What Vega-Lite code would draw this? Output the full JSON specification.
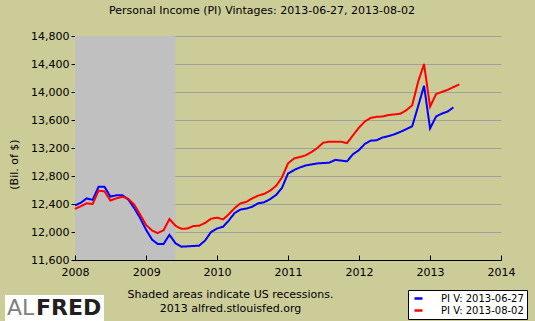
{
  "$schema": "https://vega.github.io/schema/vega-lite/v6.json",
  "width": 426,
  "height": 224,
  "autosize": {"type": "none"},
  "padding": {"left": 75, "top": 36, "right": 34, "bottom": 61},
  "background": "#CCCC99",
  "title": {
    "text": "Personal Income (PI) Vintages: 2013-06-27, 2013-08-02",
    "fontSize": 11,
    "fontWeight": "normal",
    "font": "DejaVu Sans",
    "color": "#000000",
    "anchor": "middle",
    "frame": "group",
    "dx": -26,
    "offset": 5,
    "baseline": "alphabetic"
  },
  "config": {
    "font": "DejaVu Sans",
    "view": {"stroke": null}
  },
  "datasets": {
    "rec": [{"date": "2008-01-01", "date2": "2009-06-01"}],
    "pi": [
      {"date": "2008-01-01", "vintage": "PI V: 2013-06-27", "value": 12380},
      {"date": "2008-02-01", "vintage": "PI V: 2013-06-27", "value": 12420},
      {"date": "2008-03-01", "vintage": "PI V: 2013-06-27", "value": 12480},
      {"date": "2008-04-01", "vintage": "PI V: 2013-06-27", "value": 12460},
      {"date": "2008-05-01", "vintage": "PI V: 2013-06-27", "value": 12645},
      {"date": "2008-06-01", "vintage": "PI V: 2013-06-27", "value": 12645},
      {"date": "2008-07-01", "vintage": "PI V: 2013-06-27", "value": 12505},
      {"date": "2008-08-01", "vintage": "PI V: 2013-06-27", "value": 12525},
      {"date": "2008-09-01", "vintage": "PI V: 2013-06-27", "value": 12525},
      {"date": "2008-10-01", "vintage": "PI V: 2013-06-27", "value": 12465},
      {"date": "2008-11-01", "vintage": "PI V: 2013-06-27", "value": 12340},
      {"date": "2008-12-01", "vintage": "PI V: 2013-06-27", "value": 12200},
      {"date": "2009-01-01", "vintage": "PI V: 2013-06-27", "value": 12030},
      {"date": "2009-02-01", "vintage": "PI V: 2013-06-27", "value": 11890},
      {"date": "2009-03-01", "vintage": "PI V: 2013-06-27", "value": 11830},
      {"date": "2009-04-01", "vintage": "PI V: 2013-06-27", "value": 11830},
      {"date": "2009-05-01", "vintage": "PI V: 2013-06-27", "value": 11960},
      {"date": "2009-06-01", "vintage": "PI V: 2013-06-27", "value": 11840},
      {"date": "2009-07-01", "vintage": "PI V: 2013-06-27", "value": 11790},
      {"date": "2009-08-01", "vintage": "PI V: 2013-06-27", "value": 11795},
      {"date": "2009-09-01", "vintage": "PI V: 2013-06-27", "value": 11800},
      {"date": "2009-10-01", "vintage": "PI V: 2013-06-27", "value": 11805},
      {"date": "2009-11-01", "vintage": "PI V: 2013-06-27", "value": 11880},
      {"date": "2009-12-01", "vintage": "PI V: 2013-06-27", "value": 12000},
      {"date": "2010-01-01", "vintage": "PI V: 2013-06-27", "value": 12050},
      {"date": "2010-02-01", "vintage": "PI V: 2013-06-27", "value": 12075},
      {"date": "2010-03-01", "vintage": "PI V: 2013-06-27", "value": 12160},
      {"date": "2010-04-01", "vintage": "PI V: 2013-06-27", "value": 12270},
      {"date": "2010-05-01", "vintage": "PI V: 2013-06-27", "value": 12320},
      {"date": "2010-06-01", "vintage": "PI V: 2013-06-27", "value": 12335},
      {"date": "2010-07-01", "vintage": "PI V: 2013-06-27", "value": 12360},
      {"date": "2010-08-01", "vintage": "PI V: 2013-06-27", "value": 12410},
      {"date": "2010-09-01", "vintage": "PI V: 2013-06-27", "value": 12425},
      {"date": "2010-10-01", "vintage": "PI V: 2013-06-27", "value": 12470},
      {"date": "2010-11-01", "vintage": "PI V: 2013-06-27", "value": 12530},
      {"date": "2010-12-01", "vintage": "PI V: 2013-06-27", "value": 12630},
      {"date": "2011-01-01", "vintage": "PI V: 2013-06-27", "value": 12835},
      {"date": "2011-02-01", "vintage": "PI V: 2013-06-27", "value": 12885},
      {"date": "2011-03-01", "vintage": "PI V: 2013-06-27", "value": 12920},
      {"date": "2011-04-01", "vintage": "PI V: 2013-06-27", "value": 12950},
      {"date": "2011-05-01", "vintage": "PI V: 2013-06-27", "value": 12965},
      {"date": "2011-06-01", "vintage": "PI V: 2013-06-27", "value": 12980},
      {"date": "2011-07-01", "vintage": "PI V: 2013-06-27", "value": 12985},
      {"date": "2011-08-01", "vintage": "PI V: 2013-06-27", "value": 12990},
      {"date": "2011-09-01", "vintage": "PI V: 2013-06-27", "value": 13030},
      {"date": "2011-10-01", "vintage": "PI V: 2013-06-27", "value": 13020},
      {"date": "2011-11-01", "vintage": "PI V: 2013-06-27", "value": 13010},
      {"date": "2011-12-01", "vintage": "PI V: 2013-06-27", "value": 13110},
      {"date": "2012-01-01", "vintage": "PI V: 2013-06-27", "value": 13170},
      {"date": "2012-02-01", "vintage": "PI V: 2013-06-27", "value": 13260},
      {"date": "2012-03-01", "vintage": "PI V: 2013-06-27", "value": 13305},
      {"date": "2012-04-01", "vintage": "PI V: 2013-06-27", "value": 13310},
      {"date": "2012-05-01", "vintage": "PI V: 2013-06-27", "value": 13350},
      {"date": "2012-06-01", "vintage": "PI V: 2013-06-27", "value": 13370},
      {"date": "2012-07-01", "vintage": "PI V: 2013-06-27", "value": 13395},
      {"date": "2012-08-01", "vintage": "PI V: 2013-06-27", "value": 13430},
      {"date": "2012-09-01", "vintage": "PI V: 2013-06-27", "value": 13470},
      {"date": "2012-10-01", "vintage": "PI V: 2013-06-27", "value": 13510},
      {"date": "2012-11-01", "vintage": "PI V: 2013-06-27", "value": 13800},
      {"date": "2012-12-01", "vintage": "PI V: 2013-06-27", "value": 14090},
      {"date": "2013-01-01", "vintage": "PI V: 2013-06-27", "value": 13480},
      {"date": "2013-02-01", "vintage": "PI V: 2013-06-27", "value": 13650},
      {"date": "2013-03-01", "vintage": "PI V: 2013-06-27", "value": 13690},
      {"date": "2013-04-01", "vintage": "PI V: 2013-06-27", "value": 13720},
      {"date": "2013-05-01", "vintage": "PI V: 2013-06-27", "value": 13780},
      {"date": "2008-01-01", "vintage": "PI V: 2013-08-02", "value": 12330},
      {"date": "2008-02-01", "vintage": "PI V: 2013-08-02", "value": 12370},
      {"date": "2008-03-01", "vintage": "PI V: 2013-08-02", "value": 12410},
      {"date": "2008-04-01", "vintage": "PI V: 2013-08-02", "value": 12400},
      {"date": "2008-05-01", "vintage": "PI V: 2013-08-02", "value": 12590},
      {"date": "2008-06-01", "vintage": "PI V: 2013-08-02", "value": 12580},
      {"date": "2008-07-01", "vintage": "PI V: 2013-08-02", "value": 12450},
      {"date": "2008-08-01", "vintage": "PI V: 2013-08-02", "value": 12480},
      {"date": "2008-09-01", "vintage": "PI V: 2013-08-02", "value": 12505},
      {"date": "2008-10-01", "vintage": "PI V: 2013-08-02", "value": 12475},
      {"date": "2008-11-01", "vintage": "PI V: 2013-08-02", "value": 12390},
      {"date": "2008-12-01", "vintage": "PI V: 2013-08-02", "value": 12250},
      {"date": "2009-01-01", "vintage": "PI V: 2013-08-02", "value": 12100},
      {"date": "2009-02-01", "vintage": "PI V: 2013-08-02", "value": 12020},
      {"date": "2009-03-01", "vintage": "PI V: 2013-08-02", "value": 11985},
      {"date": "2009-04-01", "vintage": "PI V: 2013-08-02", "value": 12025},
      {"date": "2009-05-01", "vintage": "PI V: 2013-08-02", "value": 12185},
      {"date": "2009-06-01", "vintage": "PI V: 2013-08-02", "value": 12090},
      {"date": "2009-07-01", "vintage": "PI V: 2013-08-02", "value": 12045},
      {"date": "2009-08-01", "vintage": "PI V: 2013-08-02", "value": 12050},
      {"date": "2009-09-01", "vintage": "PI V: 2013-08-02", "value": 12085},
      {"date": "2009-10-01", "vintage": "PI V: 2013-08-02", "value": 12090},
      {"date": "2009-11-01", "vintage": "PI V: 2013-08-02", "value": 12130},
      {"date": "2009-12-01", "vintage": "PI V: 2013-08-02", "value": 12190},
      {"date": "2010-01-01", "vintage": "PI V: 2013-08-02", "value": 12205},
      {"date": "2010-02-01", "vintage": "PI V: 2013-08-02", "value": 12180},
      {"date": "2010-03-01", "vintage": "PI V: 2013-08-02", "value": 12250},
      {"date": "2010-04-01", "vintage": "PI V: 2013-08-02", "value": 12340},
      {"date": "2010-05-01", "vintage": "PI V: 2013-08-02", "value": 12410},
      {"date": "2010-06-01", "vintage": "PI V: 2013-08-02", "value": 12430},
      {"date": "2010-07-01", "vintage": "PI V: 2013-08-02", "value": 12480},
      {"date": "2010-08-01", "vintage": "PI V: 2013-08-02", "value": 12520},
      {"date": "2010-09-01", "vintage": "PI V: 2013-08-02", "value": 12545},
      {"date": "2010-10-01", "vintage": "PI V: 2013-08-02", "value": 12590},
      {"date": "2010-11-01", "vintage": "PI V: 2013-08-02", "value": 12660},
      {"date": "2010-12-01", "vintage": "PI V: 2013-08-02", "value": 12780},
      {"date": "2011-01-01", "vintage": "PI V: 2013-08-02", "value": 12980},
      {"date": "2011-02-01", "vintage": "PI V: 2013-08-02", "value": 13050},
      {"date": "2011-03-01", "vintage": "PI V: 2013-08-02", "value": 13070},
      {"date": "2011-04-01", "vintage": "PI V: 2013-08-02", "value": 13095},
      {"date": "2011-05-01", "vintage": "PI V: 2013-08-02", "value": 13140},
      {"date": "2011-06-01", "vintage": "PI V: 2013-08-02", "value": 13200},
      {"date": "2011-07-01", "vintage": "PI V: 2013-08-02", "value": 13275},
      {"date": "2011-08-01", "vintage": "PI V: 2013-08-02", "value": 13290},
      {"date": "2011-09-01", "vintage": "PI V: 2013-08-02", "value": 13290},
      {"date": "2011-10-01", "vintage": "PI V: 2013-08-02", "value": 13290},
      {"date": "2011-11-01", "vintage": "PI V: 2013-08-02", "value": 13270},
      {"date": "2011-12-01", "vintage": "PI V: 2013-08-02", "value": 13380},
      {"date": "2012-01-01", "vintage": "PI V: 2013-08-02", "value": 13490},
      {"date": "2012-02-01", "vintage": "PI V: 2013-08-02", "value": 13580},
      {"date": "2012-03-01", "vintage": "PI V: 2013-08-02", "value": 13630},
      {"date": "2012-04-01", "vintage": "PI V: 2013-08-02", "value": 13645},
      {"date": "2012-05-01", "vintage": "PI V: 2013-08-02", "value": 13650},
      {"date": "2012-06-01", "vintage": "PI V: 2013-08-02", "value": 13670},
      {"date": "2012-07-01", "vintage": "PI V: 2013-08-02", "value": 13680},
      {"date": "2012-08-01", "vintage": "PI V: 2013-08-02", "value": 13690},
      {"date": "2012-09-01", "vintage": "PI V: 2013-08-02", "value": 13740},
      {"date": "2012-10-01", "vintage": "PI V: 2013-08-02", "value": 13810},
      {"date": "2012-11-01", "vintage": "PI V: 2013-08-02", "value": 14150},
      {"date": "2012-12-01", "vintage": "PI V: 2013-08-02", "value": 14400},
      {"date": "2013-01-01", "vintage": "PI V: 2013-08-02", "value": 13790},
      {"date": "2013-02-01", "vintage": "PI V: 2013-08-02", "value": 13970},
      {"date": "2013-03-01", "vintage": "PI V: 2013-08-02", "value": 14000},
      {"date": "2013-04-01", "vintage": "PI V: 2013-08-02", "value": 14030},
      {"date": "2013-05-01", "vintage": "PI V: 2013-08-02", "value": 14070},
      {"date": "2013-06-01", "vintage": "PI V: 2013-08-02", "value": 14110}
    ]
  },
  "encoding": {
    "x": {
      "field": "date",
      "type": "temporal",
      "scale": {
        "type": "utc",
        "domain": [
          {"year": 2008, "month": 1, "date": 1, "utc": true},
          {"year": 2014, "month": 1, "date": 1, "utc": true}
        ]
      },
      "axis": {
        "values": [
          {"year": 2008, "month": 1, "date": 1, "utc": true},
          {"year": 2009, "month": 1, "date": 1, "utc": true},
          {"year": 2010, "month": 1, "date": 1, "utc": true},
          {"year": 2011, "month": 1, "date": 1, "utc": true},
          {"year": 2012, "month": 1, "date": 1, "utc": true},
          {"year": 2013, "month": 1, "date": 1, "utc": true},
          {"year": 2014, "month": 1, "date": 1, "utc": true}
        ],
        "format": "%Y",
        "formatType": "utc",
        "grid": false,
        "tickSize": -5,
        "tickColor": "#000000",
        "domainColor": "#000000",
        "labelPadding": 11,
        "labelFontSize": 11,
        "labelColor": "#000000",
        "labelFlush": false,
        "labelOverlap": false,
        "zindex": 1,
        "title": ["Shaded areas indicate US recessions.", "2013 alfred.stlouisfed.org"],
        "titleFontSize": 11,
        "titleFontWeight": "normal",
        "titleColor": "#000000",
        "titleX": 155,
        "titleY": 28,
        "titleAlign": "center",
        "titleBaseline": "top",
        "titleLineHeight": 14
      }
    }
  },
  "layer": [
    {
      "data": {"name": "rec"},
      "mark": {"type": "rect", "color": "#C0C0C0"},
      "encoding": {
        "x2": {"field": "date2"}
      }
    },
    {
      "data": {"name": "pi"},
      "mark": {"type": "line", "strokeWidth": 2},
      "encoding": {
        "y": {
          "field": "value",
          "type": "quantitative",
          "scale": {"domain": [11600, 14800], "nice": false, "zero": false},
          "axis": {
            "values": [11600, 12000, 12400, 12800, 13200, 13600, 14000, 14400, 14800],
            "format": ",d",
            "grid": true,
            "gridColor": "#A0A0A0",
            "gridOpacity": 1,
            "tickSize": 4,
            "tickColor": "#000000",
            "domainColor": "#000000",
            "labelPadding": 2,
            "labelFontSize": 11,
            "labelColor": "#000000",
            "title": "(Bil. of $)",
            "titleFontSize": 11,
            "titleFontWeight": "normal",
            "titleColor": "#000000",
            "titleX": -61,
            "titleY": 128,
            "titleAlign": "center",
            "titleBaseline": "middle",
            "titleAngle": -90
          }
        },
        "color": {
          "field": "vintage",
          "type": "nominal",
          "scale": {
            "domain": ["PI V: 2013-06-27", "PI V: 2013-08-02"],
            "range": ["#0000FF", "#FF0000"]
          },
          "legend": {
            "orient": "none",
            "legendX": 333,
            "legendY": 254,
            "title": null,
            "fillColor": "#FFFFFF",
            "strokeColor": "#000000",
            "padding": 3,
            "symbolType": "stroke",
            "symbolSize": 64,
            "symbolStrokeWidth": 2.5,
            "symbolOffset": 2,
            "labelFontSize": 10,
            "labelColor": "#000000",
            "labelOffset": 17,
            "rowPadding": 1
          }
        },
        "strokeDash": {
          "datum": "FRED",
          "type": "nominal",
          "scale": {"range": [[1, 0]]},
          "legend": {
            "orient": "none",
            "legendX": -70,
            "legendY": 259,
            "title": "AL",
            "titleOrient": "left",
            "titleFontSize": 22,
            "titleFontWeight": "normal",
            "titleColor": "#808080",
            "titlePadding": 0,
            "labelFontSize": 22,
            "labelFontWeight": "bold",
            "labelColor": "#231F20",
            "labelOffset": -21,
            "symbolOpacity": 0,
            "symbolSize": 1,
            "symbolStrokeWidth": 0,
            "fillColor": "#FFFFFF",
            "padding": 2
          }
        }
      }
    }
  ]
}
